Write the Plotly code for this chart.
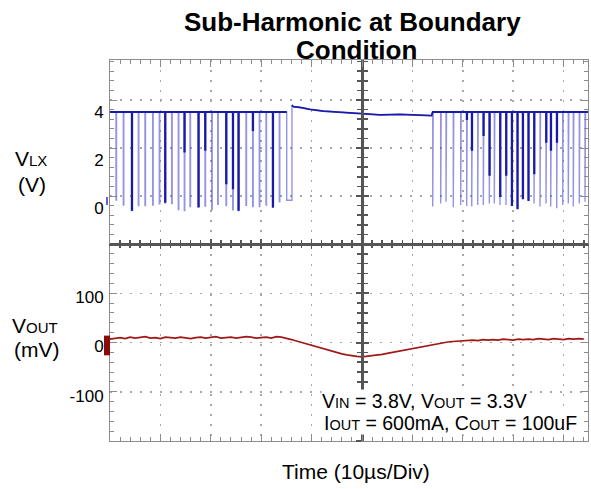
import plotly.graph_objects as go

# ---------------- data ----------------
# time axis: microseconds, 10 us / division
X_RANGE = [0, 94.84]

# V_LX switching node (V)
HIGH_LEFT = 3.5
HIGH_RIGHT = 3.5
PULSE_WIDTH_US = 0.1
LEFT_PULSE_T = [1.19, 2.64, 4.31, 5.62, 6.94, 8.47, 9.78, 10.91, 12.24, 13.55, 14.74, 15.87,
                17.52, 18.85, 20.18, 21.37, 23.02, 24.35, 25.46, 26.98, 28.31, 29.62, 30.95,
                32.28, 33.59]
LEFT_PULSE_LOW = [-0.17, -0.38, -0.61, -0.40, -0.40, -0.38, -0.33, -0.28, -0.31, -0.56, -0.61,
                  -0.44, -0.44, -0.42, -0.56, -0.35, -0.40, -0.58, -0.61, -0.39, -0.44, -0.44,
                  -0.38, -0.47, -0.24]
LEFT_PULSE_DARK = [None, None, -0.58, None, None, None, None, -0.24, None, None, 1.85, None,
                   -0.44, 1.92, None, None, 0.53, 0.32, -0.58, None, 2.75, None, None, -0.44, None]
LONG_LOW_T = [35.06, 36.1]
LONG_LOW_V = -0.18
MID_T = [36.1, 36.4, 37.7, 39.7, 42.3, 45.6, 49.9, 53.6, 57.5, 60.8, 63.8]
MID_V = [3.79, 3.72, 3.69, 3.61, 3.54, 3.50, 3.42, 3.38, 3.40, 3.38, 3.35]
RIGHT_PULSE_T = [64.03, 65.61, 66.67, 68.11, 69.58, 70.77, 71.77, 72.96, 74.07, 75.26, 76.25,
                 77.38, 78.57, 79.70, 80.81, 81.88, 82.99, 84.13, 85.32, 86.51, 87.44, 88.63,
                 89.82, 90.93, 91.92, 93.11, 94.25]
RIGHT_PULSE_LOW = [-0.44, -0.31, -0.24, -0.47, -0.38, -0.42, -0.44, -0.38, -0.38, -0.31, -0.31,
                   -0.38, -0.38, -0.38, -0.51, -0.10, -0.17, -0.31, -0.44, -0.31, -0.44, -0.51,
                   -0.38, -0.31, -0.44, -0.31, -0.24]
RIGHT_PULSE_DARK = [None, None, None, None, None, 3.2, 1.92, None, 2.54, 0.88, None, 0.0, 0.88,
                    -0.38, -0.51, -0.10, -0.17, 0.94, None, 2.26, 1.92, 2.26, None, None, None,
                    None, None]

# V_OUT ripple (mV), one reading per microsecond
VOUT_T = list(range(0, 95))
VOUT_MV = [7, 9, 10, 8, 11, 9, 10, 12, 9, 10, 8, 11, 10, 9, 11, 10, 8, 10, 11, 9,
           10, 12, 9, 10, 11, 9, 10, 12, 11, 9, 10, 11, 9, 12, 11, 9, 6, 3, 0, -3,
           -6, -9, -12, -15, -18, -21, -23, -25, -27, -28, -29, -28, -27, -26, -24, -22, -20, -18, -16, -14,
           -12, -10, -8, -6, -4, -2, 0, 1, 2, 3, 4, 4, 5, 4, 6, 5, 6, 5, 7, 6,
           5, 7, 6, 7, 6, 8, 7, 6, 8, 7, 6, 8, 7, 8, 7]

Y_TOP_RANGE = [-2, 5.667]
Y_TOP_TICKS = [0, 2, 4]
Y_BOT_RANGE = [-200, 200]
Y_BOT_TICKS = [-100, 0, 100]

# ---------------- build the switching waveform ----------------
def pulse_train(times, lows, high, w):
    xs, ys = [], []
    for t, lo in zip(times, lows):
        xs += [t, t, t + w, t + w]
        ys += [high, lo, lo, high]
    return xs, ys

light_x, light_y = [X_RANGE[0]], [HIGH_LEFT]
px_, py_ = pulse_train(LEFT_PULSE_T, LEFT_PULSE_LOW, HIGH_LEFT, PULSE_WIDTH_US)
light_x += px_; light_y += py_
light_x += [LONG_LOW_T[0], LONG_LOW_T[0], LONG_LOW_T[1]]
light_y += [HIGH_LEFT, LONG_LOW_V, LONG_LOW_V]
light_x += MID_T; light_y += MID_V
px_, py_ = pulse_train(RIGHT_PULSE_T, RIGHT_PULSE_LOW, HIGH_RIGHT, PULSE_WIDTH_US)
light_x += px_; light_y += py_
light_x += [X_RANGE[1]]; light_y += [HIGH_RIGHT]

def dark_train(times, darks, high, w):
    xs, ys = [], []
    for t, d in zip(times, darks):
        if d is None:
            continue
        xs += [t, t, t + w, t + w]
        ys += [high, d, d, high]
    return xs, ys

dark_x, dark_y = [X_RANGE[0]], [HIGH_LEFT]
px_, py_ = dark_train(LEFT_PULSE_T, LEFT_PULSE_DARK, HIGH_LEFT, PULSE_WIDTH_US)
dark_x += px_; dark_y += py_
dark_x += [LONG_LOW_T[0], None]; dark_y += [HIGH_LEFT, None]
dark_x += MID_T; dark_y += MID_V
dark_x += [RIGHT_PULSE_T[0]]; dark_y += [HIGH_RIGHT]
px_, py_ = dark_train(RIGHT_PULSE_T, RIGHT_PULSE_DARK, HIGH_RIGHT, PULSE_WIDTH_US)
dark_x += px_; dark_y += py_
dark_x += [X_RANGE[1]]; dark_y += [HIGH_RIGHT]

# ---------------- figure ----------------
W, H = 591, 489
PLOT_L, PLOT_R, PLOT_T, PLOT_B = 110, 588, 60, 441       # plot area in pixels
ML, MT, MR, MB = PLOT_L, PLOT_T, W - PLOT_R, H - PLOT_B
PW, PH = PLOT_R - PLOT_L, PLOT_B - PLOT_T
SPLIT = (PLOT_B - 244) / PH  # bottom panel fraction

def pxx(px):
    return (px - PLOT_L) / PW

def pxy(py):
    return (PLOT_B - py) / PH

FONT = "Liberation Sans, Arial, sans-serif"
LIGHT = "rgba(70,70,210,0.58)"
DARK = "#1a1aa8"
RED = "#a01818"
BORDER_C = "#8c8c8c"
CENTER_C = "#555555"

fig = go.Figure()
fig.add_trace(go.Scatter(x=light_x, y=light_y, xaxis="x2", yaxis="y2", mode="lines",
                         line=dict(color=LIGHT, width=1.4), hoverinfo="skip", showlegend=False))
fig.add_trace(go.Scatter(x=dark_x, y=dark_y, xaxis="x2", yaxis="y2", mode="lines",
                         line=dict(color=DARK, width=1.8), hoverinfo="skip", showlegend=False))
fig.add_trace(go.Scatter(x=VOUT_T, y=VOUT_MV, xaxis="x", yaxis="y", mode="lines",
                         line=dict(color=RED, width=1.7), hoverinfo="skip", showlegend=False))
for xa, ya in [("x3", "y"), ("x4", "y2"), ("x2", "y3"), ("x2", "y4"), ("x", "y5"), ("x", "y6")]:
    fig.add_trace(go.Scatter(x=[], y=[], xaxis=xa, yaxis=ya, showlegend=False, hoverinfo="skip"))

grid = dict(showgrid=True, gridcolor="#a8a8a8", gridwidth=1.5, griddash="2px,8px", zeroline=False)
border = dict(showline=True, linecolor=BORDER_C, linewidth=1, ticks="inside", tickcolor=BORDER_C,
              ticklen=7, tickwidth=1)
hcenter = dict(showline=True, linecolor=CENTER_C, linewidth=1.5, tickcolor=CENTER_C, ticklen=5,
               tickwidth=1.5, showgrid=False, zeroline=False)
vcenter = dict(showline=True, linecolor=CENTER_C, linewidth=3, tickcolor=CENTER_C, ticklen=5,
               tickwidth=2, showgrid=False, zeroline=False)
tickfont = dict(family=FONT, size=17, color="black")

xcommon = dict(range=X_RANGE, tick0=0, dtick=10, showticklabels=False)
xminor = dict(ticks="inside", ticklen=4, tickcolor=BORDER_C, dtick=2, tick0=0)
xcminor = dict(ticks="inside", ticklen=4, tickcolor=CENTER_C, tickwidth=1.5, dtick=2, tick0=0)
fig.update_layout(
    xaxis=dict(anchor="y", side="bottom", **xcommon, **grid, **border, minor=xminor),
    xaxis2=dict(anchor="y2", side="top", **xcommon, **grid, **border, minor=xminor),
    xaxis3=dict(anchor="y", overlaying="x", side="top", ticks="inside", **xcommon, **hcenter,
                minor=xcminor),
    xaxis4=dict(anchor="y2", overlaying="x2", side="bottom", ticks="inside", **xcommon, **hcenter,
                minor=xcminor),
    yaxis=dict(domain=[0, SPLIT], anchor="x", range=Y_BOT_RANGE, tickvals=Y_BOT_TICKS,
               ticktext=[str(v) for v in Y_BOT_TICKS], mirror="ticks", tickfont=tickfont,
               ticklabelshift=4, ticklabelstandoff=2, **grid, **border,
               minor=dict(ticks="inside", ticklen=4, tickcolor=BORDER_C, dtick=20, tick0=0)),
    yaxis2=dict(domain=[SPLIT, 1], anchor="x2", range=Y_TOP_RANGE, tickvals=Y_TOP_TICKS,
                ticktext=[str(v) for v in Y_TOP_TICKS], mirror="ticks", tickfont=tickfont,
                ticklabelshift=12, ticklabelstandoff=2, **grid, **border,
                minor=dict(ticks="inside", ticklen=4, tickcolor=BORDER_C, dtick=0.4, tick0=0)),
    yaxis3=dict(overlaying="y2", anchor="free", position=pxx(362), side="left", ticks="outside",
                range=Y_TOP_RANGE, tick0=0, dtick=2, showticklabels=False, **vcenter,
                minor=dict(ticks="outside", ticklen=4, tickcolor=CENTER_C, tickwidth=1.5, dtick=0.4, tick0=0)),
    yaxis4=dict(overlaying="y2", anchor="free", position=pxx(362), side="left", ticks="inside",
                range=Y_TOP_RANGE, tick0=0, dtick=2, showticklabels=False, **vcenter,
                minor=dict(ticks="inside", ticklen=4, tickcolor=CENTER_C, tickwidth=1.5, dtick=0.4, tick0=0)),
    yaxis5=dict(overlaying="y", anchor="free", position=pxx(362), side="left", ticks="outside",
                range=Y_BOT_RANGE, tick0=0, dtick=100, showticklabels=False, **vcenter,
                minor=dict(ticks="outside", ticklen=4, tickcolor=CENTER_C, tickwidth=1.5, dtick=20, tick0=0)),
    yaxis6=dict(overlaying="y", anchor="free", position=pxx(362), side="left", ticks="inside",
                range=Y_BOT_RANGE, tick0=0, dtick=100, showticklabels=False, **vcenter,
                minor=dict(ticks="inside", ticklen=4, tickcolor=CENTER_C, tickwidth=1.5, dtick=20, tick0=0)),
)

sub = lambda s, size: f'<span style="font-size:{size}px">{s}</span>'
ann = [
    dict(text="<b>Sub-Harmonic at Boundary</b>", x=pxx(352), y=pxy(21.5), font=dict(size=26)),
    dict(text="<b>Condition</b>", x=pxx(356), y=pxy(50.5), font=dict(size=26)),
    dict(text="V" + sub("LX", 15), x=pxx(31), y=pxy(158), font=dict(size=21)),
    dict(text="(V)", x=pxx(32), y=pxy(184), font=dict(size=21)),
    dict(text="V" + sub("OUT", 15), x=pxx(35), y=pxy(325), font=dict(size=21)),
    dict(text="(mV)", x=pxx(37), y=pxy(349), font=dict(size=21)),
    dict(text="Time (10µs/Div)", x=pxx(356), y=pxy(471), font=dict(size=21)),
    dict(text="V" + sub("IN", 14.5) + " = 3.8V, V" + sub("OUT", 14.5) + " = 3.3V",
         x=pxx(321), y=pxy(400.5), xanchor="left", font=dict(size=19.5), bgcolor="white"),
    dict(text="I" + sub("OUT", 14.5) + " = 600mA, C" + sub("OUT", 14.5) + " = 100uF",
         x=pxx(323), y=pxy(422.5), xanchor="left", font=dict(size=19.5), bgcolor="white"),
]
annotations = []
for a in ann:
    base = dict(xref="paper", yref="paper", showarrow=False, xanchor="center", yanchor="middle",
                borderpad=0)
    base.update(a)
    base["font"] = dict(family=FONT, color="black", **a["font"])
    annotations.append(base)

shapes = [
    dict(type="rect", xref="paper", yref="y", x0=pxx(104), x1=pxx(110), y0=-26, y1=14,
         fillcolor="#8b0a0a", line=dict(width=0)),
    dict(type="line", xref="paper", yref="y2", x0=pxx(107), x1=pxx(107), y0=-0.04, y1=-0.38,
         line=dict(color="#3030c0", width=1.5)),
]

fig.update_layout(
    width=W, height=H, margin=dict(l=ML, r=MR, t=MT, b=MB),
    paper_bgcolor="white", plot_bgcolor="white",
    annotations=annotations, shapes=shapes, showlegend=False,
    font=dict(family=FONT, color="black"),
)

# draw the figure flush with the window corner (no default page margin), no toolbar
fig.write_html("out.html", config={"displayModeBar": False, "staticPlot": True},
               post_script="document.body.style.margin='0';document.body.style.padding='0';")
